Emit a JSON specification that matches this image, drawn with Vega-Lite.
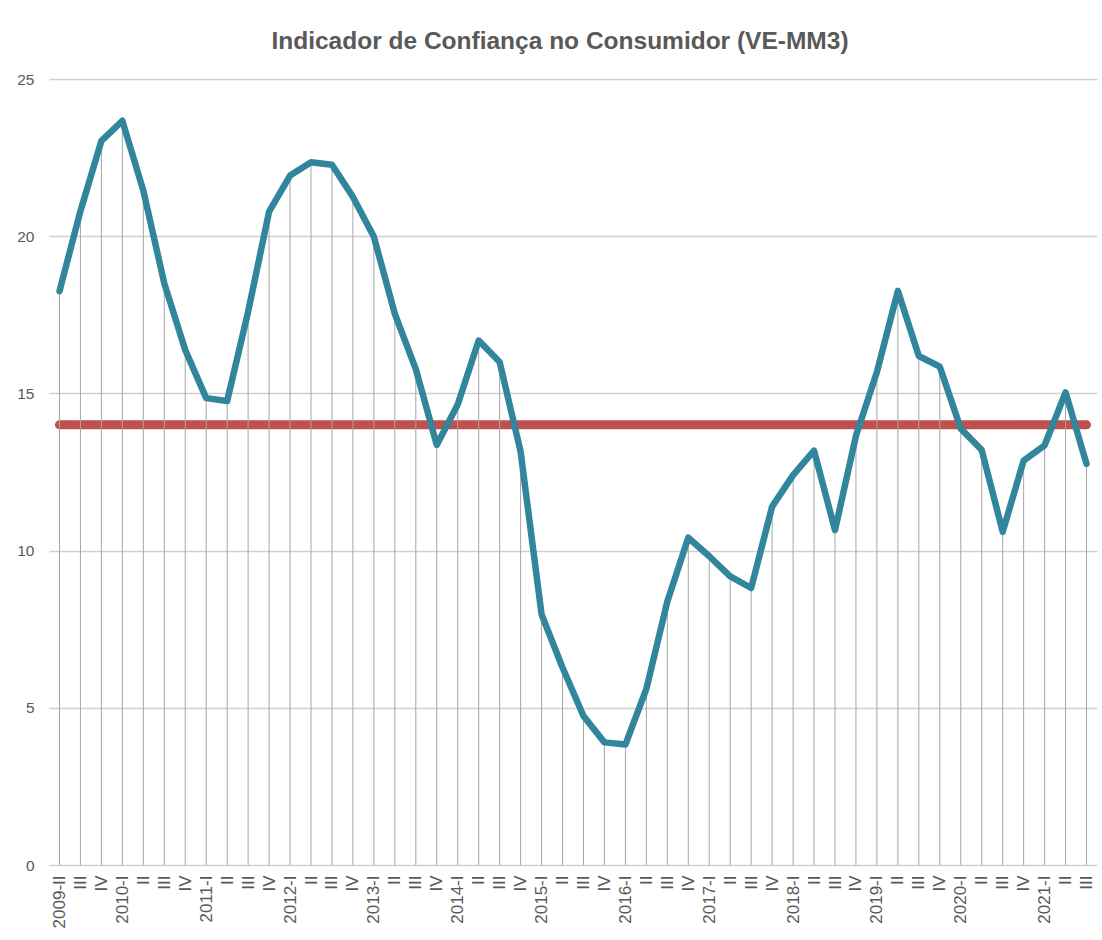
{
  "$schema": "https://vega.github.io/schema/vega-lite/v6.json",
  "autosize": {"type": "none"},
  "padding": {"left": 49, "top": 79, "right": 5, "bottom": 75},
  "width": 1048,
  "height": 786,
  "background": "white",
  "title": {
    "text": "Indicador de Confiança no Consumidor (VE-MM3)",
    "font": "Liberation Sans",
    "fontWeight": "bold",
    "fontSize": 24.5,
    "color": "#595959",
    "anchor": "middle",
    "dx": -13,
    "baseline": "alphabetic",
    "offset": 26,
    "dy": 27
  },
  "config": {"view": {"stroke": null}},
  "data": {"values": [
    {"p": "2009-II", "v": 18.25},
    {"p": "2009-III", "v": 20.8},
    {"p": "2009-IV", "v": 23.03},
    {"p": "2010-I", "v": 23.67},
    {"p": "2010-II", "v": 21.45},
    {"p": "2010-III", "v": 18.5},
    {"p": "2010-IV", "v": 16.38},
    {"p": "2011-I", "v": 14.85},
    {"p": "2011-II", "v": 14.76},
    {"p": "2011-III", "v": 17.6},
    {"p": "2011-IV", "v": 20.78},
    {"p": "2012-I", "v": 21.93},
    {"p": "2012-II", "v": 22.35},
    {"p": "2012-III", "v": 22.27},
    {"p": "2012-IV", "v": 21.25},
    {"p": "2013-I", "v": 19.98},
    {"p": "2013-II", "v": 17.53},
    {"p": "2013-III", "v": 15.77},
    {"p": "2013-IV", "v": 13.36},
    {"p": "2014-I", "v": 14.65},
    {"p": "2014-II", "v": 16.68},
    {"p": "2014-III", "v": 16.0},
    {"p": "2014-IV", "v": 13.15},
    {"p": "2015-I", "v": 7.97},
    {"p": "2015-II", "v": 6.28},
    {"p": "2015-III", "v": 4.74},
    {"p": "2015-IV", "v": 3.9},
    {"p": "2016-I", "v": 3.83},
    {"p": "2016-II", "v": 5.6},
    {"p": "2016-III", "v": 8.38},
    {"p": "2016-IV", "v": 10.41},
    {"p": "2017-I", "v": 9.82},
    {"p": "2017-II", "v": 9.18},
    {"p": "2017-III", "v": 8.81},
    {"p": "2017-IV", "v": 11.4},
    {"p": "2018-I", "v": 12.4},
    {"p": "2018-II", "v": 13.18},
    {"p": "2018-III", "v": 10.65},
    {"p": "2018-IV", "v": 13.65},
    {"p": "2019-I", "v": 15.68},
    {"p": "2019-II", "v": 18.26},
    {"p": "2019-III", "v": 16.19},
    {"p": "2019-IV", "v": 15.85},
    {"p": "2020-I", "v": 13.88},
    {"p": "2020-II", "v": 13.2},
    {"p": "2020-III", "v": 10.6},
    {"p": "2020-IV", "v": 12.86},
    {"p": "2021-I", "v": 13.35},
    {"p": "2021-II", "v": 15.03},
    {"p": "2021-III", "v": 12.76}
  ]},
  "encoding": {
    "x": {
      "field": "p",
      "type": "ordinal",
      "sort": null,
      "scale": {"type": "point", "padding": 0.5},
      "axis": {
        "title": null,
        "labelAngle": -90,
        "labelExpr": "(slice(datum.value, 5) == 'I' || datum.value == '2009-II') ? datum.value : slice(datum.value, 5)",
        "labelFont": "Liberation Sans",
        "labelFontSize": 17,
        "labelColor": "#595959",
        "labelPadding": 10,
        "domain": false,
        "ticks": false,
        "grid": false,
        "labelOverlap": false
      }
    }
  },
  "layer": [
    {
      "mark": {"type": "line", "color": "#c0504d", "strokeWidth": 9, "strokeCap": "round"},
      "encoding": {
        "y": {
          "datum": 14,
          "type": "quantitative",
          "scale": {"domain": [0, 25], "nice": false, "zero": true},
          "axis": {
            "title": null,
            "values": [0, 5, 10, 15, 20, 25],
            "labelFont": "Liberation Sans",
            "labelFontSize": 15.5,
            "labelColor": "#595959",
            "labelPadding": 15,
            "ticks": false,
            "domain": false,
            "grid": true,
            "gridColor": "#d0d0d0",
            "gridOpacity": 1,
            "gridWidth": 1.3
          }
        }
      }
    },
    {
      "mark": {"type": "rule", "color": "#a6a6a6", "strokeWidth": 1},
      "encoding": {
        "y": {"field": "v", "type": "quantitative", "scale": {"domain": [0, 25], "nice": false}},
        "y2": {"datum": 0}
      }
    },
    {
      "mark": {"type": "line", "color": "#31859c", "strokeWidth": 6.5, "strokeCap": "round", "strokeJoin": "round"},
      "encoding": {
        "y": {"field": "v", "type": "quantitative", "scale": {"domain": [0, 25], "nice": false}}
      }
    }
  ]
}
